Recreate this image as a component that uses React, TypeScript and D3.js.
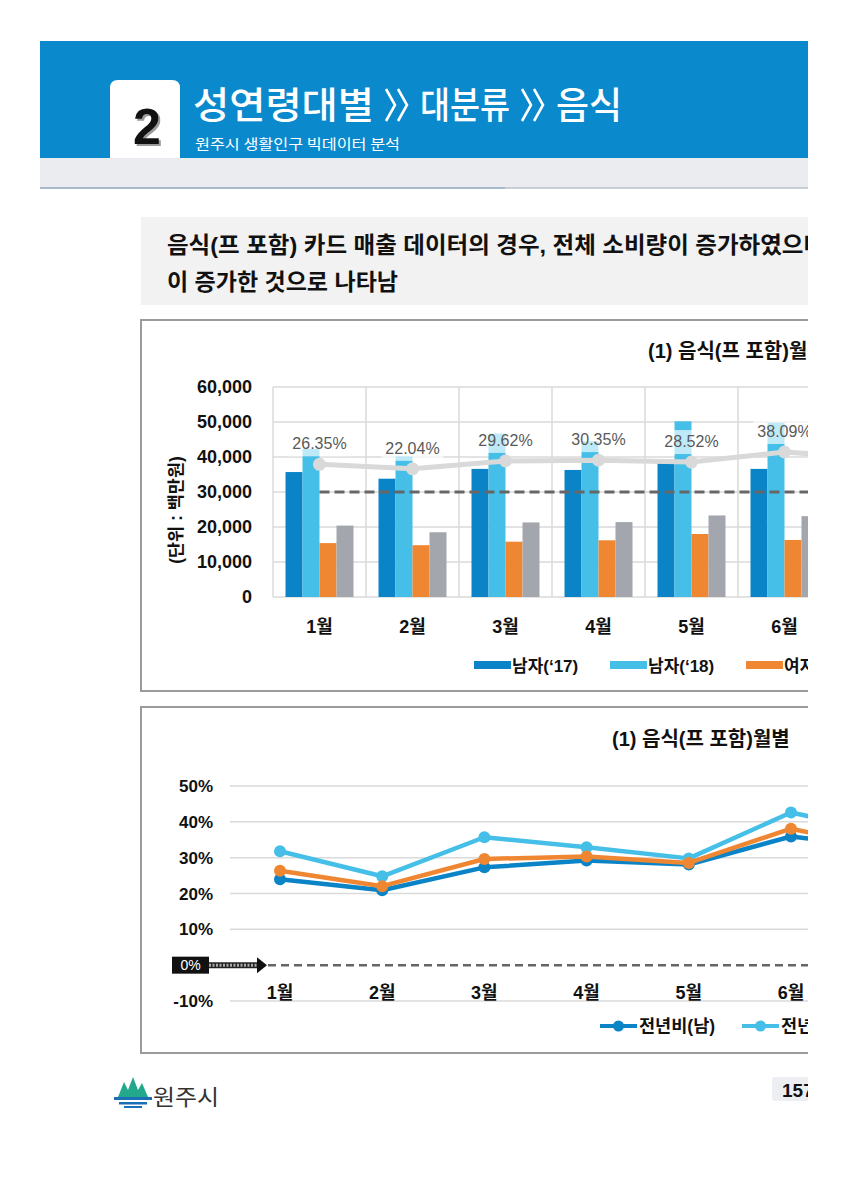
import React from 'react';
import * as d3 from 'd3';

// 월 (7월은 오른쪽 잘린 부분으로 이어지는 선의 끝점용)
const months = ['1월', '2월', '3월', '4월', '5월', '6월', '7월'];

// 카드 매출 (단위: 백만원)
const male17 = [35700, 33800, 36600, 36300, 38200, 36600];
const male18 = [42300, 40200, 46700, 44500, 50200, 49800];
const female17 = [15400, 14800, 15800, 16200, 18000, 16300];
const female18 = [20400, 18500, 21300, 21400, 23300, 23100];

// 전년비 (%)
const growthMale = [24.0, 20.9, 27.3, 29.2, 28.1, 35.9, 32.6];
const growthFemale = [31.8, 24.8, 35.7, 32.9, 29.8, 42.6, 36.5];
const growthTotal = [26.35, 22.04, 29.62, 30.35, 28.52, 38.09, 32.0];

const barTicks = [0, 10000, 20000, 30000, 40000, 50000, 60000];
const pctTicks = [-10, 0, 10, 20, 30, 40, 50];

const barSeries = [
  { name: '남자(‘17)', values: male17, color: '#0a84c7' },
  { name: '남자(‘18)', values: male18, color: '#45bfe7' },
  { name: '여자(‘17)', values: female17, color: '#ef8732' },
  { name: '여자(‘18)', values: female18, color: '#a3a6ad' },
];
const lineSeries = [
  { name: '전년비(남)', values: growthMale, color: '#0a84c7' },
  { name: '전년비(여)', values: growthFemale, color: '#45bfe7' },
  { name: '전년비(전체)', values: growthTotal, color: '#ef8732' },
];

const FONT = "'Liberation Sans', 'Noto Sans CJK KR', sans-serif";
const KFONT = "'Noto Sans CJK KR', sans-serif";
const CLIP_R = 808;

const BarChart = () => {
  // scales
  const x = d3.scaleBand<string>().domain(months).range([273, 273 + 93 * months.length]);
  const xSub = d3.scaleBand<string>().domain(barSeries.map(s => s.name)).range([12.5, 80.5]);
  const y = d3.scaleLinear().domain([0, 60000]).range([597, 387]);
  const yR = d3.scaleLinear().domain([-100, 100]).range([597, 387]);
  const cx = (m: string) => (x(m) || 0) + x.bandwidth() / 2;

  const totalLine = d3.line<number>()
    .x((_, i) => cx(months[i]))
    .y(d => yR(d));

  return (
    <g>
      <rect x={141} y={320} width={700} height={371} fill="#fff" stroke="#9b9b9b" strokeWidth={2} />
      <text x={648} y={358} fontFamily={FONT} fontWeight="bold" fontSize={20} fill="#111">
        (1) 음식(프 포함)월별
      </text>

      {/* grid */}
      {barTicks.map(t => (
        <line key={t} x1={273} x2={900} y1={y(t)} y2={y(t)} stroke="#dadada" strokeWidth={1.5} />
      ))}
      {months.map(m => (
        <line key={m} x1={x(m)} x2={x(m)} y1={y(60000)} y2={y(0)} stroke="#dadada" strokeWidth={1.5} />
      ))}

      {/* y axis labels */}
      {barTicks.map(t => (
        <text key={t} x={252} y={y(t) + 6} textAnchor="end" fontFamily={FONT} fontWeight="bold"
          fontSize={18} fill="#111">{d3.format(',')(t)}</text>
      ))}
      <text transform={`translate(182,510) rotate(-90)`} textAnchor="middle" fontFamily={FONT}
        fontWeight="bold" fontSize={17.5} fill="#111">(단위 : 백만원)</text>

      {/* bars */}
      {barSeries.map(s => s.values.map((v, i) => (
        <rect key={s.name + i} x={(x(months[i]) || 0) + (xSub(s.name) || 0)} y={y(v)}
          width={xSub.bandwidth()} height={y(0) - y(v)} fill={s.color} />
      )))}

      {/* 0% baseline of secondary axis */}
      <line x1={cx(months[0])} x2={cx(months[months.length - 1])} y1={yR(0)} y2={yR(0)}
        stroke="#666" strokeWidth={3} strokeDasharray="10,5" />

      {/* total growth line */}
      <path d={totalLine(growthTotal) || ''} fill="none" stroke="#d9d9d9" strokeWidth={5} />
      {growthTotal.map((v, i) => (
        <circle key={i} cx={cx(months[i])} cy={yR(v)} r={6.5} fill="#d9d9d9" />
      ))}
      {growthTotal.slice(0, 6).map((v, i) => (
        <g key={'l' + i}>
          <rect x={cx(months[i]) - 31} y={yR(v) - 32} width={62} height={24} fill="#fff" opacity={0.65} />
          <text x={cx(months[i])} y={yR(v) - 15} textAnchor="middle" fontFamily={FONT}
            fontSize={16} fill="#595959">{v.toFixed(2)}%</text>
        </g>
      ))}

      {/* category labels */}
      {months.map(m => (
        <text key={m} x={cx(m)} y={633} textAnchor="middle" fontFamily={FONT} fontWeight="bold"
          fontSize={18} fill="#111">{m}</text>
      ))}

      {/* legend */}
      {barSeries.map((s, i) => (
        <g key={s.name} transform={`translate(${474 + i * 136},0)`}>
          <rect x={0} y={661} width={37} height={8} fill={s.color} />
          <text x={38} y={672} fontFamily={FONT} fontWeight="bold" fontSize={17} fill="#111">{s.name}</text>
        </g>
      ))}
    </g>
  );
};

const LineChart = () => {
  const x = d3.scalePoint<string>().domain(months).range([280, 280 + 102.2 * (months.length - 1)]);
  const y = d3.scaleLinear().domain([-10, 50]).range([1001, 786]);
  const line = d3.line<number>().x((_, i) => x(months[i]) || 0).y(d => y(d));

  return (
    <g>
      <rect x={141} y={707} width={700} height={346} fill="#fff" stroke="#9b9b9b" strokeWidth={2} />
      <text x={612} y={746} fontFamily={FONT} fontWeight="bold" fontSize={20} fill="#111">
        (1) 음식(프 포함)월별
      </text>

      {pctTicks.filter(t => t !== 0).map(t => (
        <g key={t}>
          <line x1={230} x2={900} y1={y(t)} y2={y(t)} stroke="#dadada" strokeWidth={1.5} />
          <text x={213} y={y(t) + 6} textAnchor="end" fontFamily={FONT} fontWeight="bold"
            fontSize={17} fill="#111">{t}%</text>
        </g>
      ))}
      <line x1={268} x2={900} y1={y(0)} y2={y(0)} stroke="#666" strokeWidth={2.5} strokeDasharray="8,5" />

      {/* 0% marker box with arrow */}
      <rect x={172} y={y(0) - 8.5} width={37} height={17} fill="#111" />
      <text x={190.5} y={y(0) + 5} textAnchor="middle" fontFamily={FONT} fontSize={14} fill="#fff">0%</text>
      <line x1={209} x2={259} y1={y(0)} y2={y(0)} stroke="#222" strokeWidth={6} />
      <line x1={209} x2={259} y1={y(0)} y2={y(0)} stroke="#aaa" strokeWidth={3} strokeDasharray="2,1.5" />
      <path d={`M257,${y(0) - 8}L267,${y(0)}L257,${y(0) + 8}Z`} fill="#111" />

      {months.map(m => (
        <text key={m} x={x(m)} y={999} textAnchor="middle" fontFamily={FONT} fontWeight="bold"
          fontSize={18} fill="#111">{m}</text>
      ))}

      {lineSeries.map(s => (
        <g key={s.name}>
          <path d={line(s.values) || ''} fill="none" stroke={s.color} strokeWidth={4.5} strokeLinejoin="round" />
          {s.values.map((v, i) => (
            <circle key={i} cx={x(months[i])} cy={y(v)} r={6} fill={s.color} />
          ))}
        </g>
      ))}

      {lineSeries.map((s, i) => (
        <g key={'lg' + s.name} transform={`translate(${600 + i * 142},0)`}>
          <line x1={0} x2={37} y1={1026} y2={1026} stroke={s.color} strokeWidth={4} />
          <circle cx={18.5} cy={1026} r={5.5} fill={s.color} />
          <text x={39} y={1032} fontFamily={FONT} fontWeight="bold" fontSize={17.5} fill="#111">{s.name}</text>
        </g>
      ))}
    </g>
  );
};

const Chevrons = ({ x }: { x: number }) => (
  <g fill="none" stroke="#fff" strokeWidth={2.6}>
    <path d={`M${x},89 L${x + 9},105 L${x},121`} />
    <path d={`M${x + 12},89 L${x + 21},105 L${x + 12},121`} />
  </g>
);

const Header = () => (
  <g>
    <rect x={40} y={41} width={800} height={117} fill="#0a89cd" />
    <rect x={40} y={158} width={800} height={30} fill="#eaecf0" />
    <line x1={40} x2={840} y1={188} y2={188} stroke="#b7c0cb" strokeWidth={1.5} />
    <line x1={40} x2={505} y1={188} y2={188} stroke="#9fb3c8" strokeWidth={1.5} />
    <path d="M110,158 V88 Q110,80 118,80 H172 Q180,80 180,88 V158 Z" fill="#fff" />
    <text x={149} y={146} textAnchor="middle" fontFamily={FONT} fontWeight="bold" fontSize={50} fill="#9a9a9a">2</text>
    <text x={147} y={144} textAnchor="middle" fontFamily={FONT} fontWeight="bold" fontSize={50} fill="#111">2</text>
    <text x={193} y={119} fontFamily={KFONT} fontWeight="500" fontSize={37} fill="#fff" textLength={181}
      lengthAdjust="spacingAndGlyphs">성연령대별</text>
    <Chevrons x={386} />
    <text x={420} y={119} fontFamily={KFONT} fontWeight="500" fontSize={37} fill="#fff" textLength={90}
      lengthAdjust="spacingAndGlyphs">대분류</text>
    <Chevrons x={522} />
    <text x={556} y={119} fontFamily={KFONT} fontWeight="500" fontSize={37} fill="#fff" textLength={66}
      lengthAdjust="spacingAndGlyphs">음식</text>
    <text x={195} y={149} fontFamily={KFONT} fontSize={14} fill="#fff" textLength={205}
      lengthAdjust="spacingAndGlyphs">원주시 생활인구 빅데이터 분석</text>
  </g>
);

const Summary = () => (
  <g>
    <rect x={141} y={217} width={700} height={88} fill="#f2f2f2" />
    <text x={167} y={253} fontFamily={FONT} fontWeight="bold" fontSize={22.5} fill="#111"
      textLength={658} lengthAdjust="spacingAndGlyphs">
      음식(프 포함) 카드 매출 데이터의 경우, 전체 소비량이 증가하였으며
    </text>
    <text x={167} y={290} fontFamily={FONT} fontWeight="bold" fontSize={22.5} fill="#111"
      textLength={231} lengthAdjust="spacingAndGlyphs">
      이 증가한 것으로 나타남
    </text>
  </g>
);

const Footer = () => (
  <g>
    <path d="M118,1097 L124,1082 L128,1090 L133,1077 L138,1090 L142,1083 L148,1097 Z" fill="#22a98c" />
    <rect x={114} y={1097} width={38} height={3} fill="#1c6fb5" />
    <rect x={119} y={1102} width={28} height={2.5} fill="#1c6fb5" />
    <rect x={124} y={1106} width={18} height={2} fill="#1c6fb5" />
    <text x={153} y={1105} fontFamily={KFONT} fontSize={22} fill="#333" textLength={66}
      lengthAdjust="spacingAndGlyphs">원주시</text>
    <rect x={772} y={1077} width={60} height={24} rx={3} fill="#eceef2" />
    <text x={782} y={1097} fontFamily={FONT} fontWeight="bold" fontSize={19} fill="#111">157</text>
  </g>
);

export default function App() {
  return (
    <div style={{ position: 'absolute', left: 0, top: 0, background: '#fff' }}>
      <svg width={847} height={1200} style={{ display: 'block' }}>
        <defs>
          <clipPath id="page">
            <rect x={0} y={0} width={CLIP_R} height={1200} />
          </clipPath>
        </defs>
        <rect width={847} height={1200} fill="#fff" />
        <g clipPath="url(#page)">
          <Header />
          <Summary />
          <BarChart />
          <LineChart />
          <Footer />
        </g>
      </svg>
    </div>
  );
}
